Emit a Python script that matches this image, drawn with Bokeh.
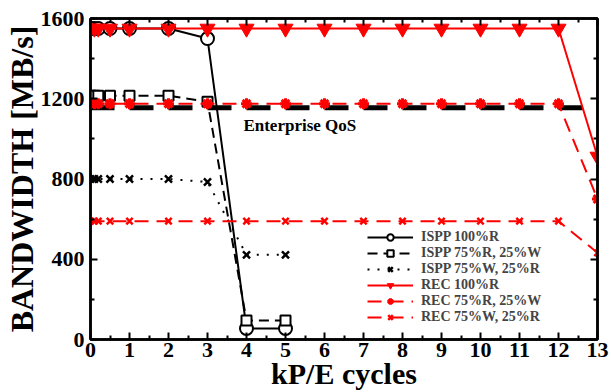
from bokeh.plotting import figure
from bokeh.models import LinearAxis, Range1d, Legend, LegendItem, Label, FixedTicker
from bokeh.embed import file_html
from bokeh.resources import INLINE

# Data
ispp_x = [0, 0.1, 0.2, 0.5, 1, 2, 3, 4, 5]
ispp_100r = [1550, 1550, 1550, 1550, 1550, 1550, 1500, 55, 55]
ispp_75r = [1215, 1215, 1215, 1215, 1215, 1215, 1185, 95, 95]
ispp_75w = [800, 800, 800, 800, 800, 800, 785, 422, 422]

rec_x = [0, 0.1, 0.2, 0.5, 1, 2, 3, 4, 5, 6, 7, 8, 9, 10, 11, 12, 13]
rec_100r = [1550] * 16 + [912]
rec_75r = [1175] * 16 + [700]
rec_75w = [590] * 16 + [432]

qos_level = 1155
qos_label = "Enterprise QoS"

x_ticks = list(range(0, 14))
y_ticks = [0, 400, 800, 1200, 1600]

FONT = "Liberation Serif"
RED = "#ff0000"

p = figure(width=611, height=392, output_backend="svg", toolbar_location=None,
           x_range=Range1d(0, 13), y_range=Range1d(0, 1600),
           min_border_left=88, min_border_right=14, min_border_top=18, min_border_bottom=52)
p.grid.visible = False
p.outline_line_color = "black"
p.outline_line_width = 2.5
p.background_fill_color = "white"

def style_axis(ax, ticks, labels=True):
    ax.axis_line_width = 2.5
    ax.axis_line_color = "black"
    ax.major_tick_in = 7
    ax.major_tick_out = 0
    ax.minor_tick_in = 4
    ax.minor_tick_out = 0
    ax.major_tick_line_width = 2
    ax.minor_tick_line_width = 2
    if labels:
        ax.major_label_text_font = FONT
        ax.major_label_text_font_style = "bold"
        ax.major_label_text_font_size = "22px"
        ax.major_label_text_color = "black"
        ax.axis_label_text_font = FONT
        ax.axis_label_text_font_style = "bold"
        ax.axis_label_text_color = "black"
    else:
        ax.major_label_overrides = {t: "" for t in ticks}
        ax.major_label_standoff = 0

xt = FixedTicker(ticks=x_ticks, minor_ticks=[i + 0.5 for i in range(13)])
yt = FixedTicker(ticks=y_ticks, minor_ticks=[200, 600, 1000, 1400])

p.xaxis.ticker = xt
p.yaxis.ticker = yt
style_axis(p.xaxis[0], x_ticks)
style_axis(p.yaxis[0], y_ticks)
p.xaxis.axis_label = "kP/E cycles"
p.xaxis.axis_label_text_font_size = "30px"
p.xaxis.major_label_standoff = 3
p.xaxis.axis_label_standoff = -3
p.yaxis.axis_label = "BANDWIDTH [MB/s]"
p.yaxis.axis_label_text_font_size = "32px"
p.yaxis.major_label_standoff = 6
p.yaxis.axis_label_standoff = -2

top = LinearAxis(ticker=xt)
style_axis(top, x_ticks, labels=False)
p.add_layout(top, "above")
right = LinearAxis(ticker=yt)
style_axis(right, y_ticks, labels=False)
p.add_layout(right, "right")

# Enterprise QoS line
p.line([0, 13], [qos_level, qos_level], line_color="black", line_width=5, line_dash="24 15")
p.add_layout(Label(x=3.92, y=qos_level - 40, text=qos_label, text_font=FONT, text_font_style="bold",
                   text_font_size="17px", text_baseline="top", text_color="black"))

items = []
# ISPP 100%R
l1 = p.line(ispp_x, ispp_100r, line_color="black", line_width=2)
m1 = p.scatter(ispp_x, ispp_100r, marker="circle", size=13, fill_color="white", line_color="black", line_width=2)
items.append(LegendItem(label="ISPP 100%R", renderers=[l1, m1]))
# ISPP 75R
l2 = p.line(ispp_x, ispp_75r, line_color="black", line_width=2, line_dash="10 6")
m2 = p.scatter(ispp_x, ispp_75r, marker="square", size=10, fill_color="white", line_color="black", line_width=2)
items.append(LegendItem(label="ISPP 75%R, 25%W", renderers=[l2, m2]))
# ISPP 75W
l3 = p.line(ispp_x, ispp_75w, line_color="black", line_width=2, line_dash="2 8")
m3 = p.scatter(ispp_x, ispp_75w, marker="x", size=10, line_color="black", line_width=2.5)
items.append(LegendItem(label="ISPP 75%W, 25%R", renderers=[l3, m3]))
# REC 100R
l4 = p.line(rec_x, rec_100r, line_color=RED, line_width=2)
m4 = p.scatter(rec_x, rec_100r, marker="inverted_triangle", size=15, fill_color=RED, line_color=RED)
items.append(LegendItem(label="REC 100%R", renderers=[l4, m4]))
# REC 75R
l5 = p.line(rec_x, rec_75r, line_color=RED, line_width=2, line_dash="14 8")
m5 = p.scatter(rec_x, rec_75r, marker="asterisk", size=11, line_color=RED, line_width=3)
items.append(LegendItem(label="REC 75%R, 25%W", renderers=[l5, m5]))
# REC 75W
l6 = p.line(rec_x, rec_75w, line_color=RED, line_width=2, line_dash="14 8")
m6 = p.scatter(rec_x, rec_75w, marker="x", size=9, line_color=RED, line_width=2.5)
items.append(LegendItem(label="REC 75%W, 25%R", renderers=[l6, m6]))

legend = Legend(items=items, location=(277, 14), background_fill_alpha=0, border_line_alpha=0,
                label_text_font=FONT, label_text_font_style="bold", label_text_font_size="14px",
                glyph_width=46, glyph_height=16, label_height=16, label_standoff=8, spacing=0,
                padding=0, margin=0)
p.add_layout(legend, "center")

open("out.html", "w").write(file_html(p, INLINE))
